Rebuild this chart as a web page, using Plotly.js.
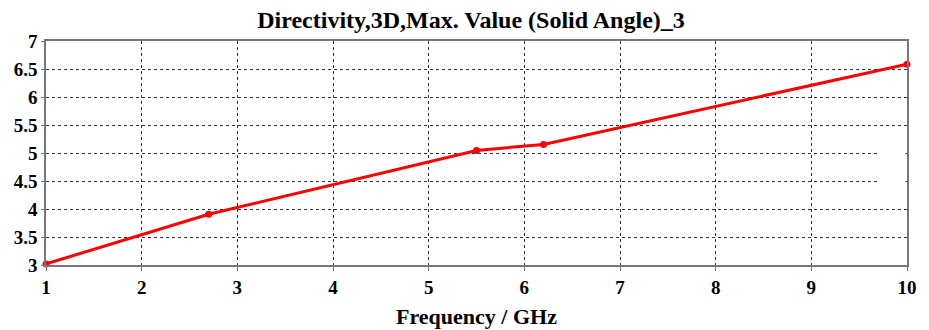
<!DOCTYPE html>
<html>
<head>
<meta charset="utf-8">
<script src="https://cdn.plot.ly/plotly-3.0.1.min.js"></script>
<style>
html,body{margin:0;padding:0;background:#fff;}
#chart{width:929px;height:330px;}
#chart .modebar-container{display:none !important;}
</style>
</head>
<body>
<div id="chart"></div>
<script>
const freq = [1, 2.7, 5.5, 6.2, 10];
const directivity = [3.02, 3.905, 5.046, 5.153, 6.587];
const xTicks = [1, 2, 3, 4, 5, 6, 7, 8, 9, 10];
const yTicks = [3, 3.5, 4, 4.5, 5, 5.5, 6, 6.5, 7];
const yTickText = ['3', '3.5', '4', '4.5', '5', '5.5', '6', '6.5', '7'];

const fam = '"Times New Roman", "Liberation Serif", serif';
function f(size) { return {family: fam, size: size, color: '#000', weight: 700}; }

Plotly.newPlot('chart', [{
  x: freq, y: directivity, type: 'scatter', mode: 'lines+markers',
  line: {color: '#ff0000', width: 3},
  marker: {color: '#ff0000', size: 7},
  cliponaxis: false
}], {
  width: 929, height: 330,
  margin: {l: 46, r: 22, t: 41, b: 65},
  paper_bgcolor: '#fff', plot_bgcolor: '#fff',
  showlegend: false,
  font: {family: fam, color: '#000', size: 19, weight: 700},
  title: {text: '<b>Directivity,3D,Max. Value (Solid Angle)_3</b>', x: 0.507, xanchor: 'center', y: 0.941, yanchor: 'middle',
    font: f(24)},
  xaxis: {range: [1, 10], tickmode: 'array', tickvals: xTicks, ticktext: xTicks.map(v => '<b>' + v + '</b>'),
    showgrid: true, gridcolor: '#333', griddash: 'dot', gridwidth: 1,
    showline: true, linecolor: '#777', linewidth: 1.5, mirror: true,
    ticks: 'outside', ticklen: 4, tickcolor: '#777', zeroline: false,
    tickfont: f(19),
    title: {text: '<b>Frequency / GHz</b>', font: f(22), standoff: 12}},
  yaxis: {range: [3, 7], tickmode: 'array', tickvals: yTicks, ticktext: yTickText.map(v => '<b>' + v + '</b>'),
    showgrid: true, gridcolor: '#333', griddash: 'dot', gridwidth: 1,
    showline: true, linecolor: '#777', linewidth: 1.5, mirror: true,
    ticks: 'outside', ticklen: 3, tickcolor: '#777', zeroline: false,
    tickfont: f(19)},
  shapes: [{type: 'rect', layer: 'between', xref: 'x', yref: 'y',
    x0: 9.71, x1: 9.985, y0: 4.3, y1: 5.2, fillcolor: '#fff', line: {width: 0}}]
});
</script>
</body>
</html>
